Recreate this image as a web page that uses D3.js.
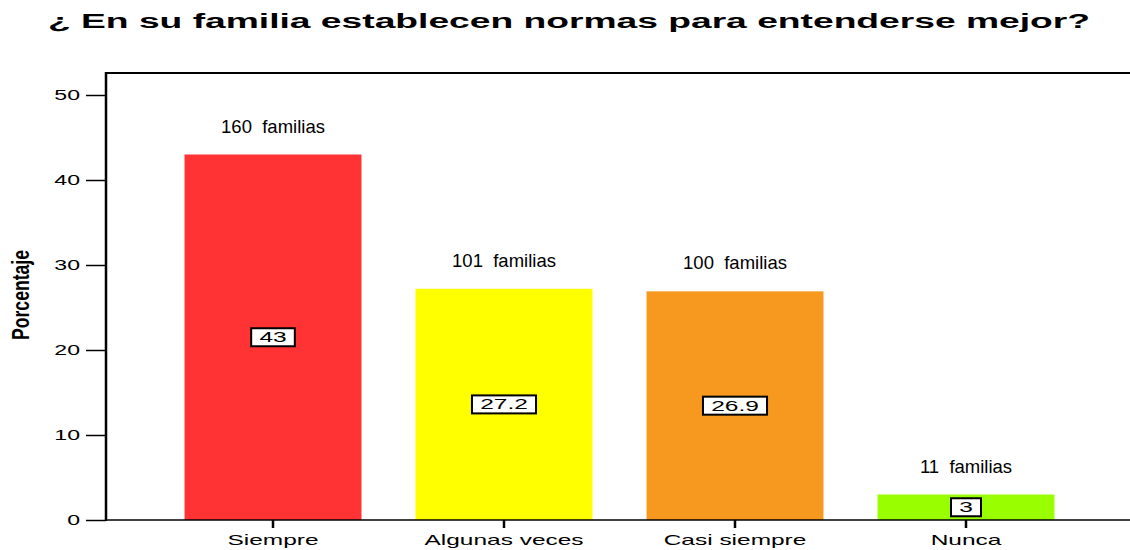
<!DOCTYPE html>
<html>
<head>
<meta charset="utf-8">
<script src="https://cdn.jsdelivr.net/npm/d3@7/dist/d3.min.js"></script>
<style>
  body { margin: 0; background: #fff; }
  svg { display: block; }
</style>
</head>
<body>
<div id="chart"></div>
<script>
// data
var categories = ['Siempre', 'Algunas veces', 'Casi siempre', 'Nunca'];
var percentages = [43, 27.2, 26.9, 3];
var families = [160, 101, 100, 11];
var barColors = ['#FF3333', '#FFFF00', '#F7981F', '#99FF00'];
var yTicks = [0, 10, 20, 30, 40, 50];

var W = 1130, H = 550;
var FONT = 'Liberation Sans, Arial, sans-serif';
var svg = d3.select('#chart').append('svg')
    .attr('width', W)
    .attr('height', H);

var axisX = 106, topY = 73, baseY = 520;

var y = d3.scaleLinear().domain([0, 50]).range([baseY, 95]);
var x = d3.scaleBand()
    .domain(categories)
    .range([157.5, 1081.5])
    .paddingInner(0.234)
    .paddingOuter(0.117);

// the original uses a horizontally stretched font
function stretch(sel, k) {
    sel.each(function () {
        var len = this.getComputedTextLength();
        d3.select(this)
            .attr('textLength', len * k)
            .attr('lengthAdjust', 'spacingAndGlyphs');
    });
}

// title
svg.append('text')
    .attr('x', 48)
    .attr('y', 28)
    .attr('textLength', 1042)
    .attr('lengthAdjust', 'spacingAndGlyphs')
    .style('font-family', FONT)
    .style('font-weight', 'bold')
    .style('font-size', '20px')
    .text('¿ En su familia establecen normas para entenderse mejor?');

// bars
svg.selectAll('rect.bar')
    .data(categories)
    .enter().append('rect')
    .attr('class', 'bar')
    .attr('x', function (d) { return x(d); })
    .attr('y', function (d, i) { return y(percentages[i]); })
    .attr('width', x.bandwidth())
    .attr('height', function (d, i) { return baseY - y(percentages[i]); })
    .style('fill', function (d, i) { return barColors[i]; });

// frame: top line
svg.append('line')
    .attr('x1', axisX).attr('x2', W)
    .attr('y1', topY).attr('y2', topY)
    .style('stroke', '#000').style('stroke-width', 2);

// y axis
var yAxis = d3.axisLeft(y).tickValues(yTicks).tickSize(20).tickPadding(6);
var gy = svg.append('g')
    .attr('transform', 'translate(' + axisX + ',0)')
    .call(yAxis);
gy.select('.domain').remove();
gy.selectAll('.tick line').style('stroke', '#000').style('stroke-width', 1.5);
gy.selectAll('.tick text')
    .style('font-family', FONT)
    .style('font-size', '14px')
    .style('fill', '#000')
    .call(stretch, 1.65);
svg.append('line')
    .attr('x1', axisX).attr('x2', axisX)
    .attr('y1', topY - 1).attr('y2', baseY + 1)
    .style('stroke', '#000').style('stroke-width', 2.5);

// x axis
var xAxis = d3.axisBottom(x).tickSize(8).tickPadding(6).tickSizeOuter(0);
var gx = svg.append('g')
    .attr('transform', 'translate(0,' + baseY + ')')
    .call(xAxis);
gx.select('.domain').remove();
svg.append('line')
    .attr('x1', axisX).attr('x2', W)
    .attr('y1', baseY).attr('y2', baseY)
    .style('stroke', '#000').style('stroke-width', 1.5);
gx.selectAll('.tick line').style('stroke', '#000').style('stroke-width', 2.5);
gx.selectAll('.tick text')
    .style('font-family', FONT)
    .style('font-size', '15px')
    .style('fill', '#000')
    .call(stretch, 1.63);

// y axis title
svg.append('text')
    .attr('transform', 'translate(29,295) rotate(-90)')
    .attr('text-anchor', 'middle')
    .attr('textLength', 90)
    .attr('lengthAdjust', 'spacingAndGlyphs')
    .style('font-family', FONT)
    .style('font-weight', 'bold')
    .style('font-size', '23px')
    .text('Porcentaje');

// family counts above bars
svg.selectAll('text.fam')
    .data(categories)
    .enter().append('text')
    .attr('class', 'fam')
    .attr('x', function (d) { return x(d) + x.bandwidth() / 2; })
    .attr('y', function (d, i) { return y(percentages[i]) - 22; })
    .attr('text-anchor', 'middle')
    .style('font-family', FONT)
    .style('font-size', '18.5px')
    .text(function (d, i) { return families[i] + '\u00a0 familias'; });

// value boxes in the middle of the bars
var vals = svg.selectAll('g.val')
    .data(categories)
    .enter().append('g')
    .attr('class', 'val')
    .attr('transform', function (d, i) {
        return 'translate(' + (x(d) + x.bandwidth() / 2) + ',' +
            ((y(percentages[i]) + baseY) / 2) + ')';
    });
vals.append('text')
    .attr('text-anchor', 'middle')
    .attr('dy', '0.36em')
    .style('font-family', FONT)
    .style('font-size', '14px')
    .text(function (d, i) { return String(percentages[i]); })
    .call(stretch, 1.75);
vals.each(function () {
    var g = d3.select(this);
    var w = g.select('text').node().getBBox().width;
    g.insert('rect', 'text')
        .attr('x', -w / 2 - 8)
        .attr('y', -9)
        .attr('width', w + 16)
        .attr('height', 18)
        .style('fill', '#fff')
        .style('stroke', '#000')
        .style('stroke-width', 2);
});
</script>
</body>
</html>
